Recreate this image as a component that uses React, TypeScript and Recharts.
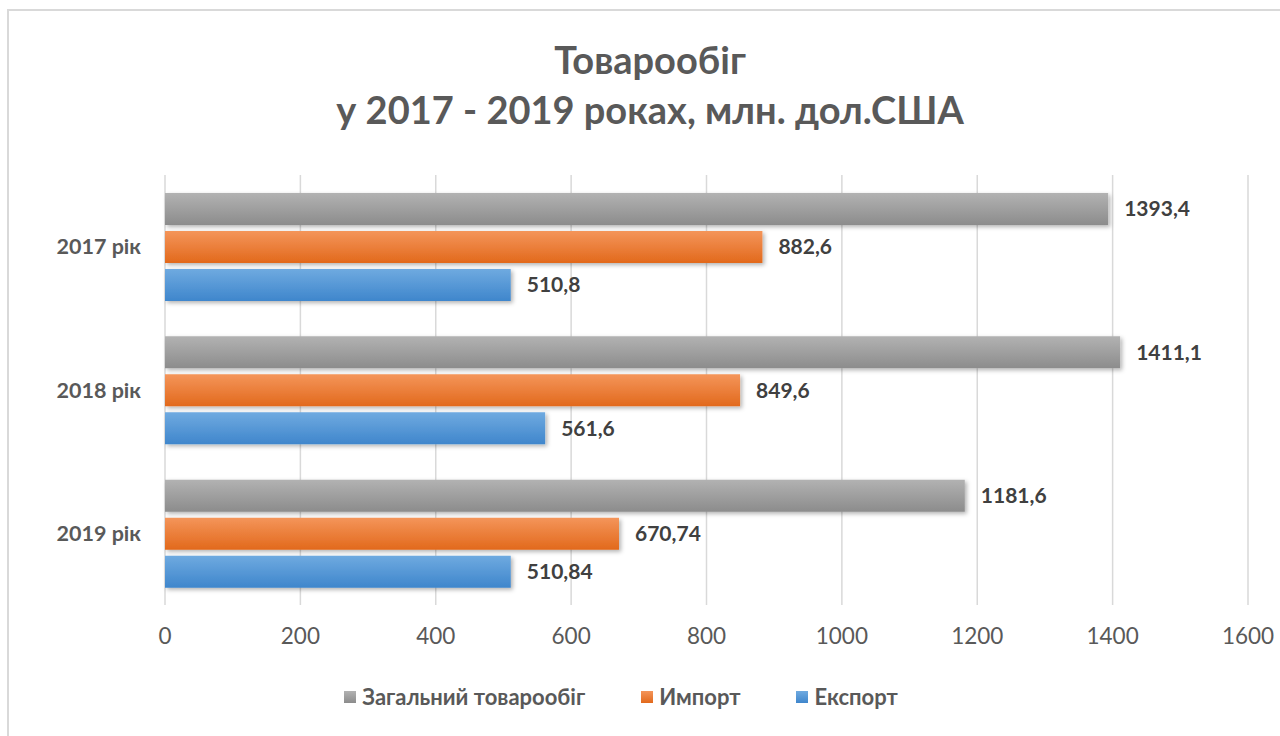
import React from 'react';
import {
  BarChart,
  Bar,
  XAxis,
  YAxis,
  CartesianGrid,
  LabelList
} from 'recharts';

const categories = ['2017 рік', '2018 рік', '2019 рік'];
const totalTrade = [1393.4, 1411.1, 1181.6];
const imports = [882.6, 849.6, 670.74];
const exports = [510.8, 561.6, 510.84];
const xTicks = [0, 200, 400, 600, 800, 1000, 1200, 1400, 1600];

const SERIES = [
  { key: 'total', name: 'Загальний товарообіг', top: '#b2b2b2', bottom: '#8c8c8c' },
  { key: 'import', name: 'Импорт', top: '#f4955a', bottom: '#e2691c' },
  { key: 'export', name: 'Експорт', top: '#6faae0', bottom: '#3f86cc' }
];

const FONT = 'Lato, "Open Sans", sans-serif';
const TEXT = '#595959';

const data = categories.map((category, i) => ({
  category,
  total: totalTrade[i],
  import: imports[i],
  export: exports[i]
}));

const formatValue = (v: any) => String(v).replace('.', ',');

const ChartLegend = () => (
  <div
    style={{
      position: 'absolute',
      left: 0,
      width: 1242,
      top: 684,
      display: 'flex',
      justifyContent: 'center',
      gap: 56,
      fontFamily: FONT
    }}
  >
    {SERIES.map((s) => (
      <div key={s.key} style={{ display: 'flex', alignItems: 'center', gap: 6 }}>
        <span
          style={{
            width: 12,
            height: 12,
            background: `linear-gradient(${s.top}, ${s.bottom})`,
            display: 'inline-block'
          }}
        />
        <span style={{ fontSize: 22, fontWeight: 700, color: TEXT, lineHeight: '26px' }}>
          {s.name}
        </span>
      </div>
    ))}
  </div>
);

const App: React.FC = () => {
  return (
    <div
      style={{
        position: 'fixed',
        left: 0,
        top: 0,
        width: 1280,
        height: 736,
        background: '#fff',
        overflow: 'hidden',
        fontFamily: FONT
      }}
    >
      <div
        style={{
          position: 'absolute',
          left: 7,
          top: 9,
          width: 1300,
          height: 760,
          border: '2px solid #d9d9d9'
        }}
      />
      <div
        style={{
          position: 'absolute',
          left: 0,
          width: 1300,
          top: 34,
          textAlign: 'center',
          color: TEXT,
          fontWeight: 700,
          fontSize: 38,
          lineHeight: '50px'
        }}
      >
        <div>Товарообіг</div>
        <div>у 2017 - 2019 роках, млн. дол.США</div>
      </div>
      <div style={{ position: 'absolute', left: 0, top: 0 }}>
        <BarChart
          width={1280}
          height={736}
          data={data}
          layout="vertical"
          margin={{ top: 175, right: 32, bottom: 0, left: 0 }}
          barSize={32}
          barGap={6}
        >
          <defs>
            {SERIES.map((s) => (
              <linearGradient key={s.key} id={`grad-${s.key}`} x1="0" y1="0" x2="0" y2="1">
                <stop offset="0%" stopColor={s.top} />
                <stop offset="100%" stopColor={s.bottom} />
              </linearGradient>
            ))}
            <filter id="barShadow" x="-5%" y="-20%" width="110%" height="160%">
              <feDropShadow dx="2" dy="2" stdDeviation="2" floodColor="#000" floodOpacity="0.3" />
            </filter>
          </defs>
          <CartesianGrid horizontal={false} stroke="#d9d9d9" strokeWidth={1.5} />
          <XAxis
            type="number"
            domain={[0, 1600]}
            ticks={xTicks}
            axisLine={false}
            tickLine={false}
            tickSize={0}
            tickMargin={23}
            height={131}
            tick={{ fontSize: 22.5, fill: TEXT, fontFamily: FONT }}
          />
          <YAxis
            type="category"
            dataKey="category"
            width={165}
            axisLine={false}
            tickLine={false}
            tickSize={0}
            tickMargin={24}
            tick={{ fontSize: 21.5, fill: TEXT, fontWeight: 700, fontFamily: FONT }}
          />
          {SERIES.map((s) => (
            <Bar
              key={s.key}
              dataKey={s.key}
              name={s.name}
              fill={`url(#grad-${s.key})`}
              filter="url(#barShadow)"
              isAnimationActive={false}
            >
              <LabelList
                dataKey={s.key}
                position="right"
                offset={16}
                formatter={formatValue}
                style={{ fontSize: 21, fontWeight: 700, fill: '#404040', fontFamily: FONT }}
              />
            </Bar>
          ))}
        </BarChart>
      </div>
      <ChartLegend />
    </div>
  );
};

export default App;
